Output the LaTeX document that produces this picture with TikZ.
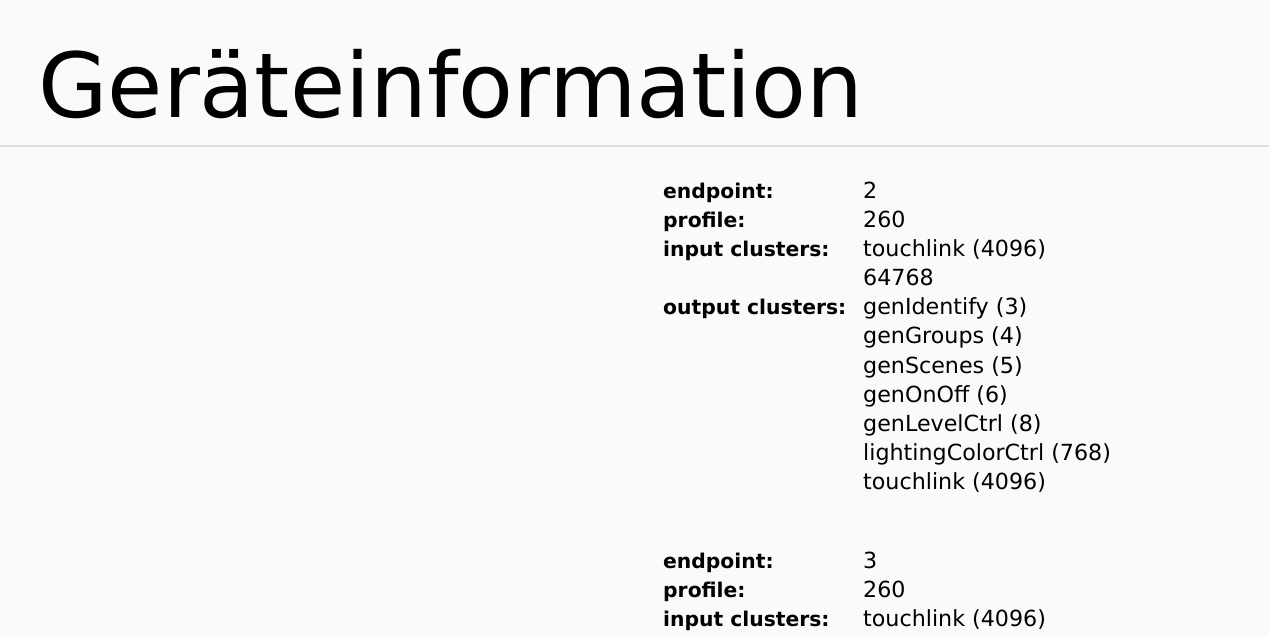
\documentclass[tikz,border=0pt]{standalone}
\usepackage{fontspec}
\setmainfont{DejaVu Sans}
\definecolor{pagebg}{HTML}{FAFAFA}
\definecolor{rulegray}{HTML}{E0E0E0}
\tikzset{
	headtext/.style={anchor=base west,inner sep=0pt,font=\fontsize{89.8}{100}\selectfont},
	keytext/.style={anchor=base west,inner sep=0pt,font=\bfseries\fontsize{20.3}{24}\selectfont},
	valtext/.style={anchor=base west,inner sep=0pt,font=\fontsize{22.2}{26}\selectfont}
}
\begin{document}
\begin{tikzpicture}[x=1pt,y=-1pt]
				\fill[pagebg](0,0)rectangle(1269,636);
				\useasboundingbox(0,0)rectangle(1269,636);
				\node[headtext](title)at(38,118){Geräteinformation};
				\draw[rulegray,line width=2pt](0,146)--(1269,146);
				% endpoint 2
				\node[keytext](epA)at(663,199){endpoint:};
				\node[keytext](prA)at(663,228){profile:};
				\node[keytext](inA)at(663,257){input clusters:};
				\node[keytext](outA)at(663,315){output clusters:};
				\foreach \txt[count=\i] in {2,260,touchlink (4096),64768,genIdentify (3),genGroups (4),genScenes (5),genOnOff (6),genLevelCtrl (8),lightingColorCtrl (768),touchlink (4096)}
					\node[valtext](valA\i)at(863,170+29*\i){\txt};
				% endpoint 3
				\node[keytext](epB)at(663,568){endpoint:};
				\node[keytext](prB)at(663,597){profile:};
				\node[keytext](inB)at(663,626){input clusters:};
				\foreach \txt[count=\i] in {3,260,touchlink (4096)}
					\node[valtext](valB\i)at(863,539+29*\i){\txt};
				\end{tikzpicture}
\end{document}
